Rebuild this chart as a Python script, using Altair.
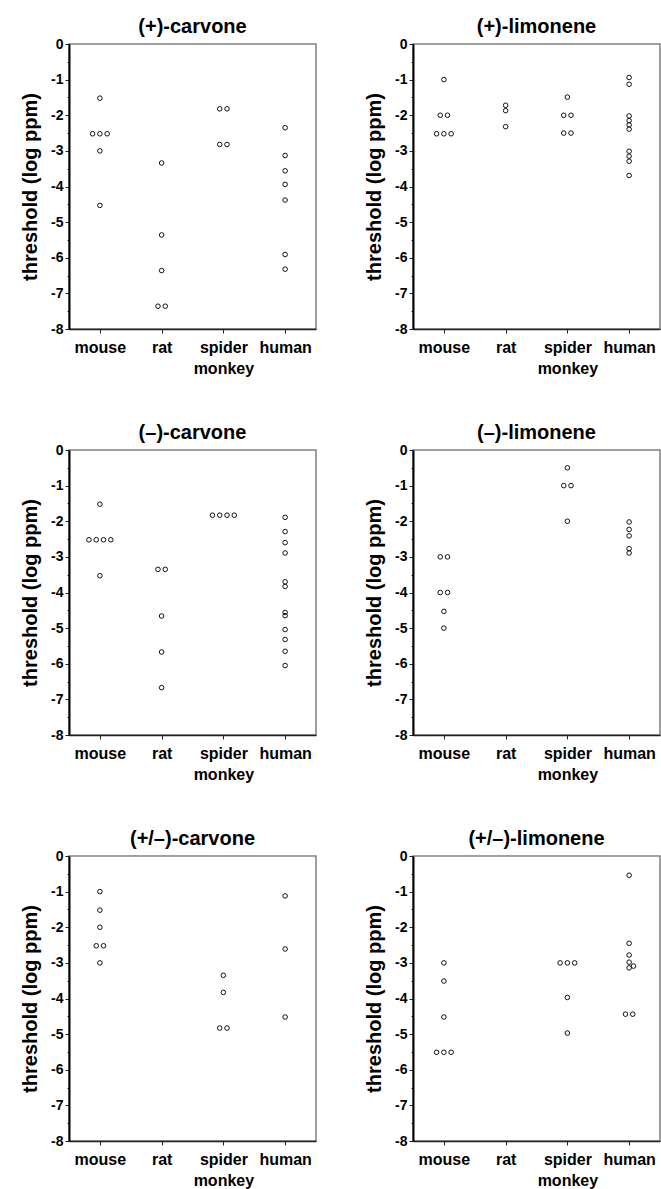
import altair as alt
import pandas as pd

species = ["mouse", "rat", "spider monkey", "human"]
titles = ["(+)-carvone", "(+)-limonene", "(–)-carvone", "(–)-limonene",
          "(+/–)-carvone", "(+/–)-limonene"]

# values per species: mouse, rat, spider monkey, human (log ppm)
plus_carvone = [
    [-1.52, -2.52, -2.52, -2.52, -3.0, -4.53],
    [-3.34, -5.36, -6.36, -7.36, -7.36],
    [-1.82, -1.82, -2.82, -2.82],
    [-2.35, -3.13, -3.56, -3.94, -4.38, -5.91, -6.32],
]
plus_limonene = [
    [-1.0, -2.0, -2.0, -2.52, -2.52, -2.52],
    [-1.72, -1.87, -2.32],
    [-1.49, -2.0, -2.0, -2.5, -2.5],
    [-0.94, -1.13, -2.02, -2.15, -2.27, -2.39, -3.01, -3.15, -3.29, -3.69],
]
minus_carvone = [
    [-1.52, -2.52, -2.52, -2.52, -2.52, -3.53],
    [-3.35, -3.35, -4.66, -5.67, -6.67],
    [-1.83, -1.83, -1.83, -1.83],
    [-1.89, -2.29, -2.6, -2.89, -3.70, -3.83, -4.56, -4.65, -5.04, -5.32, -5.65, -6.05],
]
minus_limonene = [
    [-3.0, -3.0, -4.0, -4.0, -4.53, -5.0],
    [],
    [-0.5, -1.0, -1.0, -2.0],
    [-2.02, -2.23, -2.41, -2.77, -2.89],
]
racemic_carvone = [
    [-1.0, -1.52, -2.0, -2.52, -2.52, -3.0],
    [],
    [-3.35, -3.83, -4.83, -4.83],
    [-1.12, -2.61, -4.52],
]
racemic_limonene = [
    [-3.0, -3.51, -4.52, -5.51, -5.51, -5.51],
    [],
    [-3.0, -3.0, -3.0, -3.97, -4.97],
    [-0.54, -2.45, -2.78, -2.98, -3.14, -3.09, -4.44, -4.44],
]
panels = [plus_carvone, plus_limonene, minus_carvone, minus_limonene,
          racemic_carvone, racemic_limonene]

y_ticks = [0, -0.5, -1, -1.5, -2, -2.5, -3, -3.5, -4, -4.5, -5, -5.5,
           -6, -6.5, -7, -7.5, -8]

DODGE = 0.118  # horizontal spacing of tied points, in category units


def build_frame(values_by_species):
    rows = []
    for i, vals in enumerate(values_by_species):
        counts = {}
        for v in vals:
            counts[round(v, 2)] = counts.get(round(v, 2), 0) + 1
        seen = {}
        singles = []
        for v in vals:
            key = round(v, 2)
            n = counts[key]
            k = seen.get(key, 0)
            seen[key] = k + 1
            if n > 1:
                off = (k - (n - 1) / 2) * DODGE
            else:
                off = 0.0
                if any(abs(v - p) < 0.07 for p in singles):
                    off = DODGE * 0.6
                else:
                    singles.append(v)
            rows.append({"species": species[i], "xpos": i + off, "value": v})
    return pd.DataFrame(rows, columns=["species", "xpos", "value"])


def label_expr():
    parts = []
    for i, s in enumerate(species):
        words = s.split(" ")
        if len(words) > 1:
            lab = "[" + ", ".join("'%s'" % w for w in words) + "]"
        else:
            lab = "'%s'" % s
        parts.append((i, lab))
    expr = parts[-1][1]
    for i, lab in reversed(parts[:-1]):
        expr = "datum.value == %d ? %s : %s" % (i, lab, expr)
    return expr


FONT = "Liberation Sans"


def panel(title, values):
    df = build_frame(values)
    return alt.Chart(df).mark_point(
        shape="circle", filled=False, size=21, strokeWidth=1,
        color="#111111", opacity=1
    ).encode(
        x=alt.X("xpos:Q",
                scale=alt.Scale(domain=[-0.5, 3.5], nice=False, zero=False),
                axis=alt.Axis(values=[0, 1, 2, 3], labelExpr=label_expr(),
                              title=None, grid=False, domainColor="#222222",
                              domainWidth=1.5, tickColor="#222222", tickSize=4,
                              tickWidth=1, labelFontSize=16, labelFont=FONT,
                              labelFontWeight="bold", labelColor="black",
                              labelPadding=6, labelLineHeight=21,
                              labelOverlap=False, labelFlush=False)),
        y=alt.Y("value:Q",
                scale=alt.Scale(domain=[-8, 0], nice=False, zero=False),
                axis=alt.Axis(values=y_ticks,
                              labelExpr="datum.value % 1 == 0 ? toString(datum.value) : ''",
                              title="threshold (log ppm)", grid=False,
                              domainColor="black", domainWidth=2,
                              tickColor="#222222",
                              tickSize={"condition": {"test": "datum.value % 1 == 0", "value": 4}, "value": 2},
                              tickWidth=1, labelFontSize=14, labelFont=FONT,
                              labelFontWeight="bold", labelColor="black",
                              labelPadding=2, labelOverlap=False,
                              labelFlush=False,
                              titleFont=FONT, titleFontSize=20,
                              titleFontWeight="bold", titleColor="black",
                              titlePadding=10)),
    ).properties(
        width=247, height=285,
        title=alt.TitleParams(title, font=FONT, fontSize=20, fontWeight="bold",
                              color="black", anchor="middle", offset=0),
    )


charts = [panel(t, v) for t, v in zip(titles, panels)]
rows = [alt.hconcat(charts[0], charts[1], spacing=46),
        alt.hconcat(charts[2], charts[3], spacing=46),
        alt.hconcat(charts[4], charts[5], spacing=46)]

chart = alt.vconcat(*rows, spacing=45).properties(
    padding={"left": 19, "top": 16, "right": 0, "bottom": 0},
    background="white",
).configure_view(
    stroke="#808080", strokeWidth=1.5
)

chart.save("out.html", embed_options={"renderer": "svg", "actions": False})
